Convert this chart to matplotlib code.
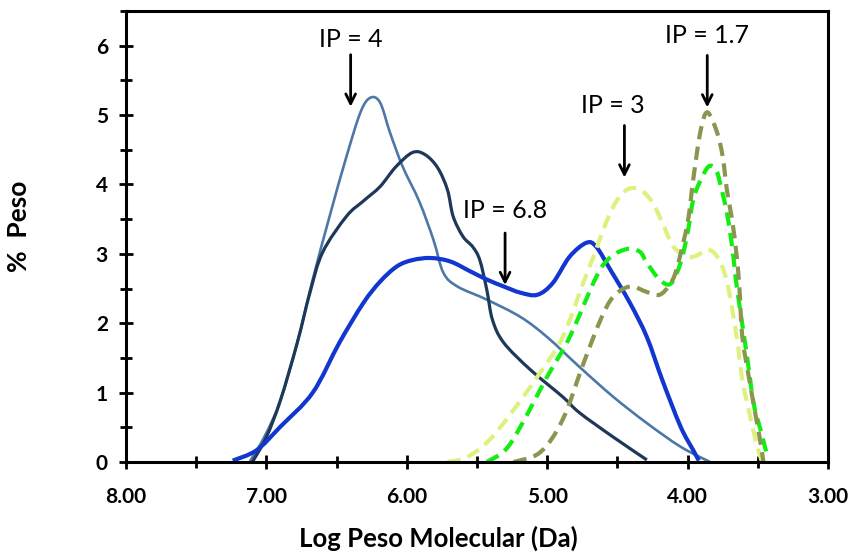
import matplotlib
matplotlib.use("Agg")
import matplotlib.pyplot as plt
import numpy as np
from matplotlib.path import Path
from matplotlib.patches import PathPatch
from matplotlib.ticker import MultipleLocator, FormatStrFormatter

# --- data (x = log MW, y = % weight) ---
steel_x = [7.12, 7.01, 6.90, 6.78, 6.67, 6.55, 6.43, 6.33, 6.26, 6.19,
           6.12, 6.03, 5.91, 5.81, 5.74, 5.64, 5.43, 5.19, 5.00, 4.77, 4.53, 4.29,
           4.05, 3.84]
steel_y = [0.00, 0.38, 0.89, 1.72, 2.63, 3.54, 4.40, 5.04, 5.25, 5.18,
           4.75, 4.26, 3.75, 3.20, 2.73, 2.53, 2.34, 2.09, 1.80, 1.37, 0.94, 0.56,
           0.22, 0.00]

navy_x = [7.10, 7.00, 6.90, 6.78, 6.69, 6.60, 6.43, 6.31, 6.19, 6.08,
          5.96, 5.87, 5.78, 5.71, 5.67, 5.60, 5.53, 5.48, 5.43, 5.39, 5.31, 5.12,
          4.89, 4.77, 4.53, 4.29]
navy_y = [0.00, 0.36, 0.89, 1.72, 2.44, 3.02, 3.54, 3.76, 3.97, 4.25,
          4.46, 4.43, 4.24, 3.92, 3.54, 3.25, 3.10, 2.91, 2.48, 2.05, 1.72, 1.33,
          0.94, 0.71, 0.36, 0.03]

blue_x = [7.24, 7.07, 6.90, 6.67, 6.48, 6.31, 6.19, 6.07, 5.96, 5.83, 5.69, 5.55,
          5.43, 5.31, 5.19, 5.07, 4.96, 4.84, 4.72, 4.65, 4.55, 4.41, 4.29,
          4.18, 4.05, 3.96, 3.92]
blue_y = [0.02, 0.17, 0.51, 1.00, 1.72, 2.29, 2.60, 2.82, 2.91, 2.94, 2.89, 2.75,
          2.63, 2.53, 2.44, 2.41, 2.58, 2.96, 3.16, 3.10, 2.77, 2.29, 1.80,
          1.18, 0.51, 0.17, 0.02]

ltgreen_x = [5.71, 5.57, 5.41, 5.24, 5.07, 4.89, 4.74, 4.67, 4.60, 4.53, 4.46, 4.39,
             4.32, 4.25, 4.18, 4.10, 4.00, 3.93, 3.86, 3.79, 3.72, 3.65, 3.61,
             3.56, 3.51, 3.47]
ltgreen_y = [0.00, 0.07, 0.32, 0.75, 1.23, 1.80, 2.60, 2.96, 3.35, 3.68, 3.88, 3.95,
             3.90, 3.74, 3.45, 3.10, 2.96, 2.98, 3.06, 2.96, 2.60, 1.80, 1.18,
             0.71, 0.27, 0.00]

green_x = [5.43, 5.30, 5.19, 5.00, 4.84, 4.65, 4.55, 4.43, 4.34, 4.29, 4.20,
           4.12, 4.05, 4.00, 3.96, 3.91, 3.85, 3.80, 3.77, 3.72, 3.68, 3.65,
           3.58, 3.53, 3.48, 3.43]
green_y = [0.00, 0.17, 0.51, 1.23, 1.80, 2.67, 2.95, 3.07, 3.03, 2.87, 2.63,
           2.57, 2.87, 3.30, 3.78, 4.05, 4.26, 4.22, 4.03, 3.59, 3.06, 2.53,
           1.57, 0.85, 0.46, 0.07]

olive_x = [5.24, 5.05, 4.89, 4.74, 4.62, 4.53, 4.41, 4.29, 4.20, 4.13, 4.08, 4.00,
           3.96, 3.91, 3.86, 3.79, 3.75, 3.72, 3.68, 3.65, 3.63, 3.61, 3.56, 3.51,
           3.48, 3.46]
olive_y = [0.00, 0.14, 0.61, 1.43, 2.05, 2.38, 2.53, 2.45, 2.41, 2.55, 2.77, 3.45,
           4.07, 4.75, 5.04, 4.75, 4.40, 3.92, 3.45, 2.96, 2.48, 1.80, 1.18, 0.61,
           0.27, 0.00]

# annotations: label, arrow x, arrow tip y, arrow tail y, text x, text y
ip_labels = ["IP = 4", "IP = 6.8", "IP = 3", "IP = 1.7"]
ip_arrow_x = [6.40, 5.30, 4.45, 3.86]
ip_tip_y = [5.12, 2.55, 4.10, 5.11]
ip_tail_y = [5.87, 3.30, 4.85, 5.86]
ip_text_x = [6.40, 5.30, 4.53, 3.86]
ip_text_y = [6.09, 3.62, 5.14, 6.15]


def smooth_line(ax, x, y, **kw):
    """Excel-style smoothed line: Catmull-Rom segments drawn as cubic Beziers."""
    pts = np.column_stack([x, y])
    n = len(pts)
    verts = [pts[0]]
    codes = [Path.MOVETO]
    for i in range(n - 1):
        p0 = pts[max(i - 1, 0)]
        p1 = pts[i]
        p2 = pts[i + 1]
        p3 = pts[min(i + 2, n - 1)]
        verts += [p1 + (p2 - p0) / 6.0, p2 - (p3 - p1) / 6.0, p2]
        codes += [Path.CURVE4] * 3
    patch = PathPatch(Path(verts, codes), fill=False, **kw)
    ax.add_patch(patch)
    return patch


plt.rcParams["font.family"] = ["Lato", "DejaVu Sans"]

fig = plt.figure(figsize=(8.49, 5.54), dpi=100)
ax = fig.add_axes([126 / 849, 92 / 554, 702 / 849, 451 / 554])

dash = (0, (3.2, 1.8))
smooth_line(ax, steel_x, steel_y, edgecolor="#4D78A6", lw=1.9, zorder=3)
smooth_line(ax, navy_x, navy_y, edgecolor="#1E3859", lw=2.3, zorder=3)
smooth_line(ax, blue_x, blue_y, edgecolor="#1236D0", lw=3.0, zorder=3)
smooth_line(ax, ltgreen_x, ltgreen_y, edgecolor="#DDF27E", lw=3.0, linestyle=dash, zorder=4)
smooth_line(ax, green_x, green_y, edgecolor="#12EE12", lw=3.0, linestyle=dash, zorder=4)
smooth_line(ax, olive_x, olive_y, edgecolor="#8A9550", lw=3.0, linestyle=dash, zorder=5)

for lab, arr_x, ty, tl, tx, tyy in zip(ip_labels, ip_arrow_x, ip_tip_y, ip_tail_y,
                                       ip_text_x, ip_text_y):
    ax.annotate("", xy=(arr_x, ty), xytext=(arr_x, tl),
                arrowprops=dict(arrowstyle="->,head_length=0.7,head_width=0.35",
                                color="black", lw=2.0, shrinkA=0, shrinkB=0),
                zorder=6)
    ax.text(tx, tyy, lab, ha="center", va="center", fontsize=18, color="black",
            zorder=6)

ax.set_xlim(8, 3)
ax.set_ylim(0, 6.5)
ax.xaxis.set_major_locator(MultipleLocator(1))
ax.xaxis.set_minor_locator(MultipleLocator(0.5))
ax.xaxis.set_major_formatter(FormatStrFormatter("%.2f"))
ax.yaxis.set_major_locator(MultipleLocator(1))
ax.yaxis.set_minor_locator(MultipleLocator(0.5))

for s in ax.spines.values():
    s.set_linewidth(2.2)
    s.set_zorder(7)
ax.tick_params(which="both", direction="inout", width=2.0, colors="black")
ax.tick_params(which="major", length=10)
ax.tick_params(which="minor", length=8)
ax.tick_params(axis="x", which="major", pad=13, labelsize=15)
ax.tick_params(axis="y", which="major", pad=8, labelsize=15)
for lbl in ax.get_xticklabels() + ax.get_yticklabels():
    lbl.set_fontweight("bold")

fig.text(438 / 849, 1 - 547 / 554, "Log Peso Molecular (Da)", ha="center",
         va="baseline", fontsize=18.5, fontweight="bold")
fig.text(19 / 849, 1 - 226 / 554, "%  Peso", ha="center", va="center",
         rotation=90, fontsize=19, fontweight="bold")

fig.savefig("out.png", dpi=100)
